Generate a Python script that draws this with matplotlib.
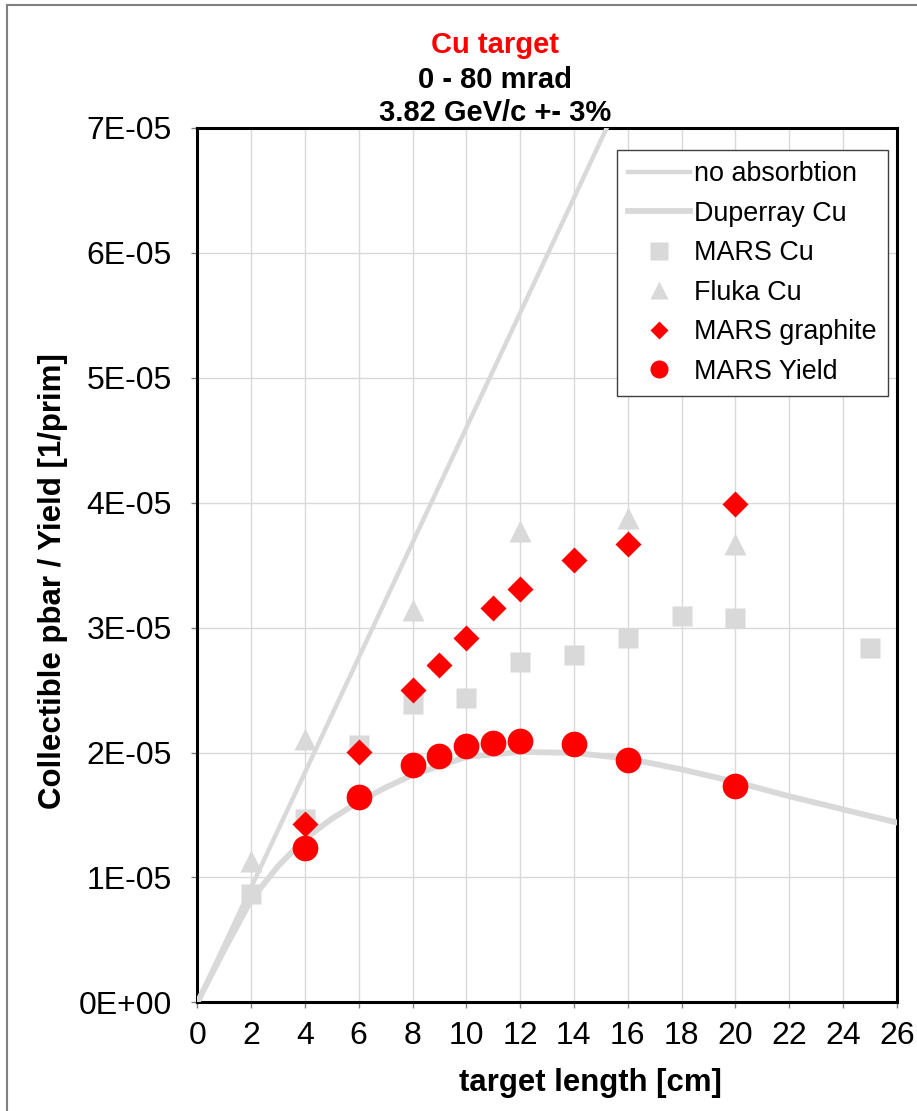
import numpy as np
import matplotlib
matplotlib.use("Agg")
import matplotlib.pyplot as plt
from matplotlib.ticker import FuncFormatter, MultipleLocator
from matplotlib.patches import Rectangle

plt.rcParams["font.family"] = ["Liberation Sans", "DejaVu Sans"]

# target length [cm] and yields [1/prim]
noabs_x = [0, 16]
noabs_y = [0, 7.36e-05]

dup_x = [0, 1, 2, 3, 4, 5, 6, 7, 8, 10, 12, 14, 16, 18, 20, 22, 24, 26]
dup_y = [0, 0.42e-05, 0.82e-05, 1.09e-05, 1.31e-05, 1.47e-05, 1.605e-05, 1.72e-05,
         1.82e-05, 1.965e-05, 2.005e-05, 1.997e-05, 1.952e-05, 1.865e-05, 1.765e-05,
         1.65e-05, 1.545e-05, 1.44e-05]

marscu_x = [2, 4, 6, 8, 10, 12, 14, 16, 18, 20, 25]
marscu_y = [0.87e-05, 1.47e-05, 2.06e-05, 2.39e-05, 2.44e-05, 2.725e-05, 2.78e-05,
            2.92e-05, 3.09e-05, 3.08e-05, 2.84e-05]

fluka_x = [2, 4, 8, 12, 16, 20]
fluka_y = [1.13e-05, 2.11e-05, 3.14e-05, 3.77e-05, 3.88e-05, 3.67e-05]

graph_x = [4, 6, 8, 9, 10, 11, 12, 14, 16, 20]
graph_y = [1.426e-05, 2.005e-05, 2.504e-05, 2.70e-05, 2.92e-05, 3.157e-05, 3.31e-05,
           3.54e-05, 3.667e-05, 3.986e-05]

yield_x = [4, 6, 8, 9, 10, 11, 12, 14, 16, 20]
yield_y = [1.232e-05, 1.645e-05, 1.904e-05, 1.97e-05, 2.053e-05, 2.08e-05, 2.09e-05,
           2.072e-05, 1.944e-05, 1.733e-05]

grey = "#d9d9d9"
red = "#ff0000"

fig = plt.figure(figsize=(9.17, 11.11), dpi=100)
ax = fig.add_axes([0.2152, 0.0978, 0.7627, 0.787])

ax.plot(noabs_x, noabs_y, color=grey, lw=3.2, label="no absorbtion", zorder=3)
ax.plot(dup_x, dup_y, color=grey, lw=4.2, label="Duperray Cu", zorder=3)
ax.plot(marscu_x, marscu_y, ls="none", marker="s", ms=14.5, color=grey,
        mec="none", label="MARS Cu", zorder=4)
ax.plot(fluka_x, fluka_y, ls="none", marker="^", ms=16, color=grey,
        mec="none", label="Fluka Cu", zorder=4)
ax.plot(graph_x, graph_y, ls="none", marker="D", ms=13.6, color=red,
        mec="none", label="MARS graphite", zorder=5)
ax.plot(yield_x, yield_y, ls="none", marker="o", ms=18.5, color=red,
        mec="none", label="MARS Yield", zorder=5)

ax.set_xlim(0, 26)
ax.set_ylim(0, 7e-05)
ax.xaxis.set_major_locator(MultipleLocator(2))
ax.yaxis.set_major_locator(MultipleLocator(1e-05))
ax.yaxis.set_major_formatter(FuncFormatter(lambda v, p: f"{v:.0E}"))
ax.grid(True, color=grey, lw=1.0, zorder=0)
ax.set_axisbelow(True)
for s in ax.spines.values():
    s.set_linewidth(2.2)
    s.set_color("black")
ax.tick_params(axis="y", direction="out", length=4.5, width=1, color="#808080",
               labelsize=23, pad=14)
ax.tick_params(axis="x", direction="out", length=4.5, width=1, color="#808080",
               labelsize=23, pad=9)

leg = ax.legend(loc="upper right", bbox_to_anchor=(888 / 917, 1 - 150 / 1111),
                bbox_transform=fig.transFigure, borderaxespad=0, fontsize=19.4,
                frameon=True, fancybox=False, edgecolor="#404040", framealpha=1,
                handlelength=2.3, handletextpad=0.15, labelspacing=0.5,
                borderpad=0.42, numpoints=1)
leg.get_frame().set_linewidth(1.0)
for h, ms in zip(leg.legend_handles[2:], [13, 13, 9.2, 13]):
    h.set_markersize(ms)

fig.text(0.540, 1 - 45 / 1111, "Cu target", color=red, fontsize=21,
         fontweight="bold", ha="center", va="center")
fig.text(0.540, 1 - 80 / 1111, "0 - 80 mrad", color="black", fontsize=21,
         fontweight="bold", ha="center", va="center")
fig.text(0.540, 1 - 113 / 1111, "3.82 GeV/c +- 3%", color="black", fontsize=21,
         fontweight="bold", ha="center", va="center")

fig.text(590 / 917, 1 - 1083 / 1111, "target length [cm]", fontsize=22.4,
         fontweight="bold", ha="center", va="center")
fig.text(53 / 917, 1 - 581 / 1111, "Collectible pbar / Yield [1/prim]",
         fontsize=22.5, fontweight="bold", rotation=90, ha="center", va="center")

fig.patches.append(Rectangle((7 / 917, -0.01), 1.02, 1 - 5 / 1111 + 0.01,
                             transform=fig.transFigure, fill=False,
                             edgecolor="#808080", lw=1.5))

fig.savefig("out.png", dpi=100)
